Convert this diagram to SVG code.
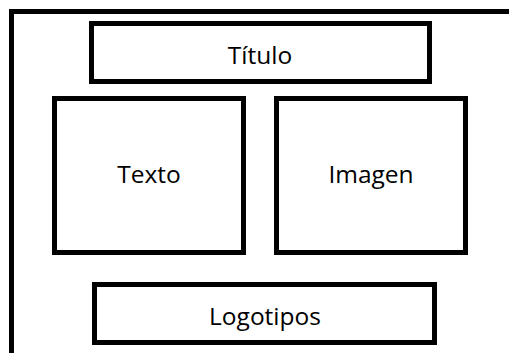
<svg xmlns="http://www.w3.org/2000/svg" width="509" height="353" viewBox="0 0 509 353">
<style>
.box{fill:#fff;stroke:#000;stroke-width:5}
.lbl{font-family:"Open Sans","Liberation Sans",sans-serif;font-size:24.5px;fill:#000;text-anchor:middle}
</style>
<rect width="509" height="353" fill="#fff"/>
<g id="frame"><path d="M11.5,353 V11.5 H509" fill="none" stroke="#000" stroke-width="5"/></g>
<g id="titulo"><rect class="box" x="91.5" y="23.5" width="338" height="58"/><text class="lbl" x="260" y="64">Título</text></g>
<g id="texto"><rect class="box" x="54.5" y="98.5" width="189" height="154"/><text class="lbl" x="149" y="183">Texto</text></g>
<g id="imagen"><rect class="box" x="276.5" y="98.5" width="189" height="154"/><text class="lbl" x="371" y="183">Imagen</text></g>
<g id="logotipos"><rect class="box" x="94.5" y="284.5" width="340" height="58"/><text class="lbl" x="265" y="325">Logotipos</text></g>
<g id="connectors"/>
</svg>
